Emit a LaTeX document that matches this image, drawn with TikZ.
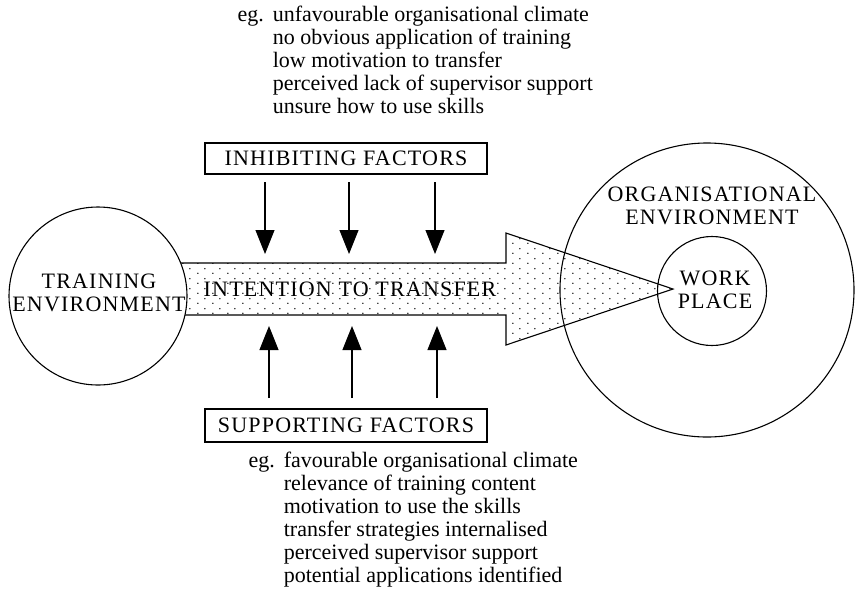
\documentclass[tikz,border=0pt]{standalone}
\usepackage{fontspec}
\setmainfont{Liberation Serif}
\newfontfamily\capsfont[LetterSpace=5.5]{Liberation Serif}
\usetikzlibrary{arrows.meta,patterns.meta}
\tikzdeclarepattern{
  name=sdots,
  type=uncolored,
  bounding box={(0pt,0pt) and (15pt,10pt)},
  tile size={(15pt,10pt)},
  code={\fill (3pt,3pt) circle (0.8pt); \fill (10.5pt,8pt) circle (0.8pt);}
}
\begin{document}
\begin{tikzpicture}[x=1pt,y=-1pt,
  line width=1.1pt,
  caps/.style={font=\capsfont\fontsize{22}{23}\selectfont, align=center, inner sep=0pt},
  factorbox/.style={draw, line width=1.1pt, minimum width=282pt, inner sep=0pt, font=\capsfont\fontsize{22}{23}\selectfont},
  eglist/.style={font=\fontsize{22}{23.1}\selectfont, inner sep=0pt, anchor=base west},
  influence/.style={line width=1.1pt, -{Triangle[width=19pt,length=24pt]}},
  ring/.style={draw, circle, line width=1.1pt, inner sep=0pt}
]
\useasboundingbox (0,0) rectangle (856,595);
% big arrow
\filldraw[pattern={sdots}, pattern color=black, line width=1.1pt]
  (150,263) -- (506,263) -- (506,233) -- (673,289) -- (506,345) -- (506,315) -- (150,315) -- cycle;
\node[caps] (itt) at (350,289) {INTENTION TO TRANSFER};
% circles
\node[ring, fill=white, minimum size=178pt] (train) at (98,296) {};
\node[caps] (trainl) at (99,293) {TRAINING\\ENVIRONMENT};
\node[ring, minimum size=294pt] (org) at (707,290) {};
\node[caps] (orgl) at (712,206) {ORGANISATIONAL\\ENVIRONMENT};
\node[ring, minimum size=109pt] (work) at (712,291) {};
\node[caps] (workl) at (715,290) {WORK\\PLACE};
% factor boxes
\node[factorbox, minimum height=31pt] (inh) at (346,158.5) {INHIBITING FACTORS};
\node[factorbox, minimum height=33pt] (sup) at (346,425.5) {SUPPORTING FACTORS};
% inhibiting arrows
\coordinate (ia1) at (265,182); \coordinate (ib1) at (265,254);
\coordinate (ia2) at (349,182); \coordinate (ib2) at (349,254);
\coordinate (ia3) at (435,182); \coordinate (ib3) at (435,254);
\draw[influence] (ia1) -- (ib1);
\draw[influence] (ia2) -- (ib2);
\draw[influence] (ia3) -- (ib3);
% supporting arrows
\coordinate (sa1) at (269,398); \coordinate (sb1) at (269,326);
\coordinate (sa2) at (352,398); \coordinate (sb2) at (352,326);
\coordinate (sa3) at (437,398); \coordinate (sb3) at (437,326);
\draw[influence] (sa1) -- (sb1);
\draw[influence] (sa2) -- (sb2);
\draw[influence] (sa3) -- (sb3);
% example lists
\node[eglist] (inhlist) at (237,21) {\begin{tabular}[t]{@{}l@{\hspace{9pt}}l@{}}
eg. & unfavourable organisational climate\\
 & no obvious application of training\\
 & low motivation to transfer\\
 & perceived lack of supervisor support\\
 & unsure how to use skills
\end{tabular}};
\node[eglist] (suplist) at (248,467) {\begin{tabular}[t]{@{}l@{\hspace{9pt}}l@{}}
eg. & favourable organisational climate\\
 & relevance of training content\\
 & motivation to use the skills\\
 & transfer strategies internalised\\
 & perceived supervisor support\\
 & potential applications identified
\end{tabular}};
\end{tikzpicture}
\end{document}
